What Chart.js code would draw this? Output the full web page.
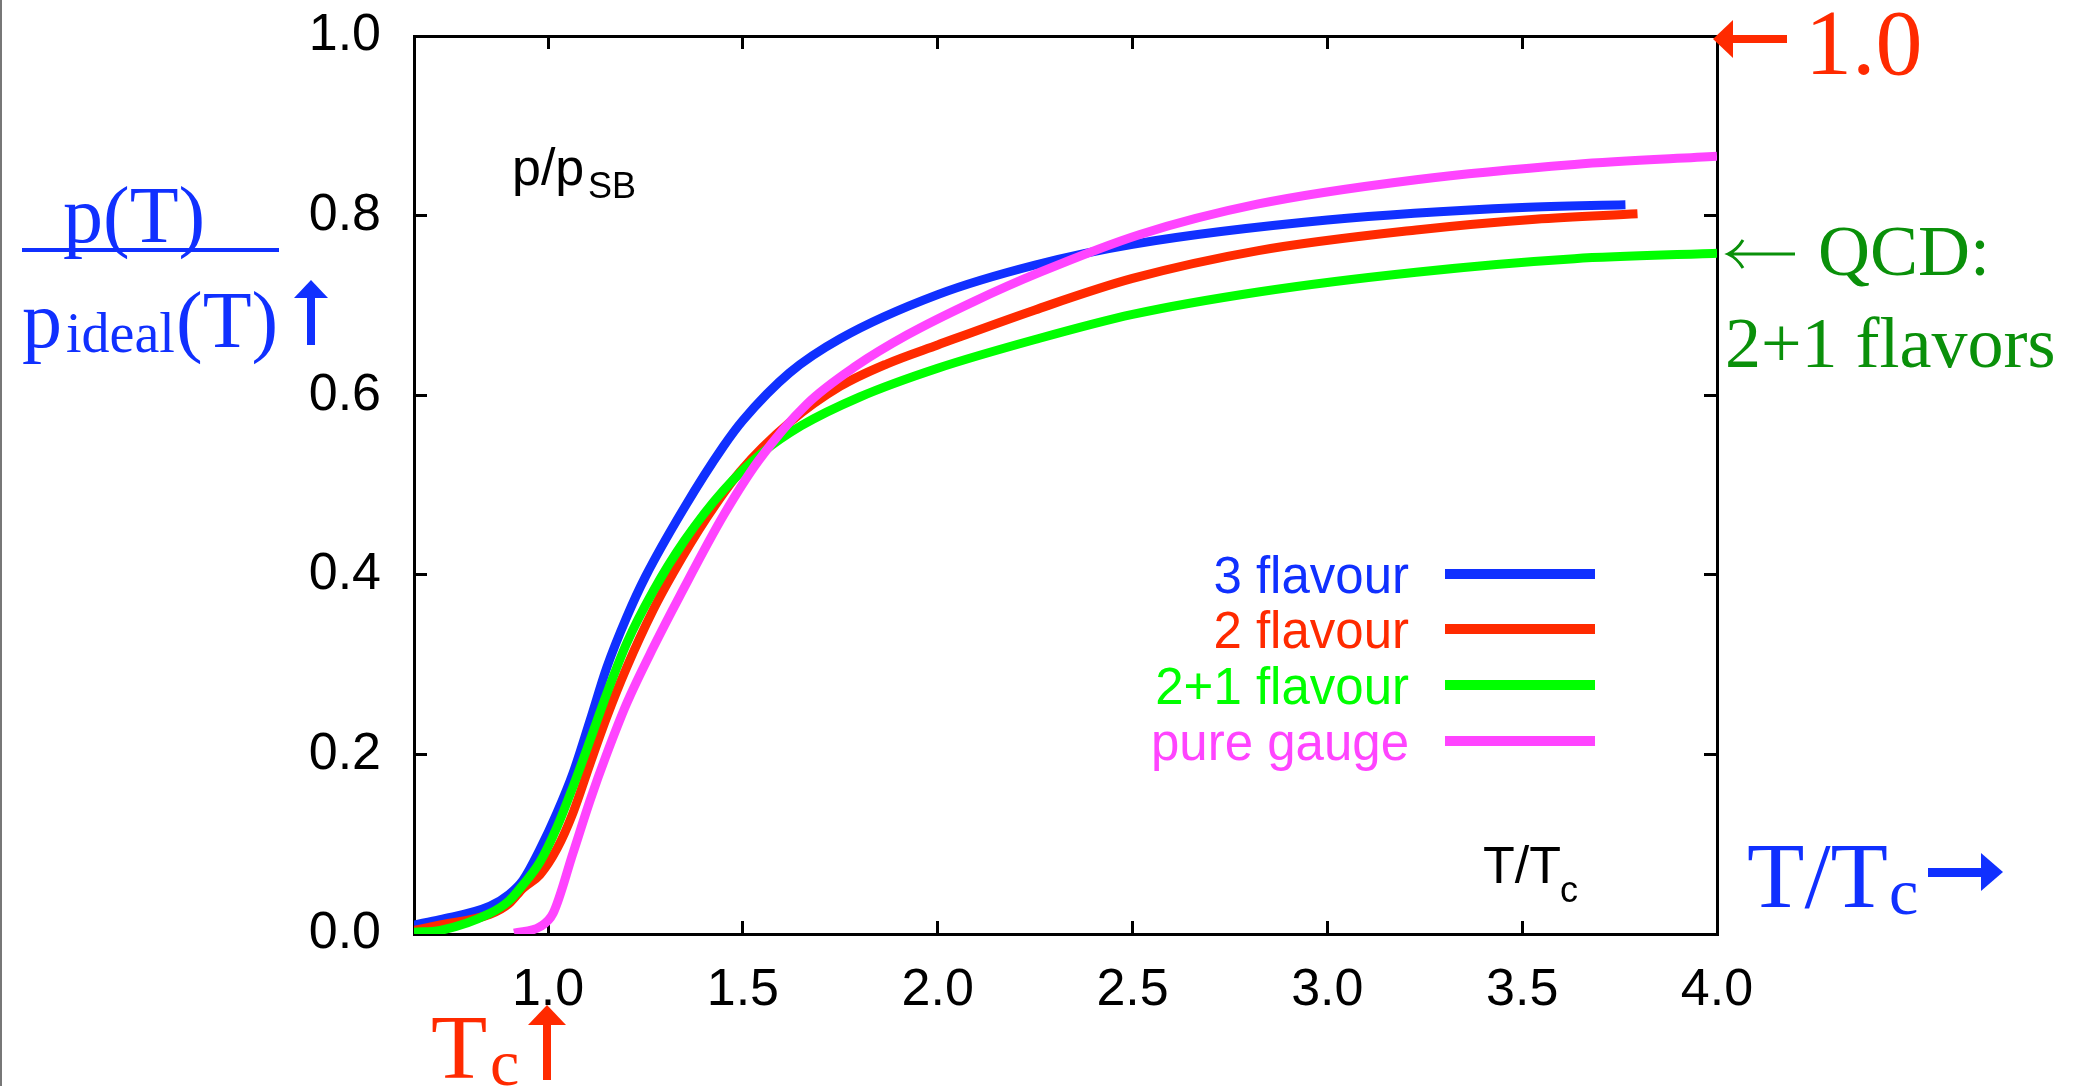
<!DOCTYPE html>
<html><head><meta charset="utf-8">
<script src="https://cdn.jsdelivr.net/npm/chart.js@4.4.0/dist/chart.umd.min.js"></script>
<style>html,body{margin:0;padding:0;background:#fff;overflow:hidden}canvas{display:block}</style>
</head><body>
<canvas id="c" width="2080" height="1086"></canvas>
<script>
// ---- data ----
const seriesLabels = ['3 flavour', '2 flavour', '2+1 flavour', 'pure gauge'];
const seriesColors = ['#1030ff', '#ff2a00', '#00ff00', '#ff44ff'];

const flav3T = [0.656,0.723,0.851,0.9,0.936,0.979,1.023,1.064,1.108,1.151,1.202,1.25,1.35,1.45,1.5,1.62,1.75,2.0,2.25,2.5,3.0,3.5,3.765];
const flav3P = [0.010,0.016,0.031,0.044,0.060,0.094,0.135,0.179,0.238,0.297,0.353,0.398,0.475,0.543,0.572,0.625,0.663,0.712,0.745,0.768,0.795,0.809,0.812];

const flav2T = [0.656,0.723,0.851,0.9,0.936,0.979,1.023,1.064,1.108,1.151,1.202,1.270,1.321,1.408,1.493,1.621,1.75,1.87,2.0,2.25,2.5,2.823,3.228,3.534,3.796];
const flav2P = [0.004,0.010,0.022,0.034,0.051,0.066,0.095,0.135,0.190,0.242,0.297,0.361,0.402,0.464,0.515,0.570,0.610,0.635,0.656,0.695,0.730,0.761,0.784,0.796,0.802];

const flav21T = [0.656,0.723,0.851,0.9,0.936,0.979,1.023,1.064,1.108,1.151,1.202,1.27,1.35,1.45,1.55,1.65,1.8,2.0,2.25,2.5,2.823,3.228,3.634,4.0];
const flav21P = [0.002,0.004,0.023,0.037,0.055,0.080,0.119,0.164,0.216,0.268,0.324,0.382,0.438,0.494,0.536,0.566,0.598,0.630,0.662,0.690,0.715,0.737,0.752,0.758];

const gaugeT = [0.913,0.979,1.013,1.064,1.108,1.151,1.202,1.27,1.34,1.45,1.54,1.664,1.792,1.921,2.091,2.263,2.519,2.823,3.228,3.634,4.0];
const gaugeP = [0.001,0.008,0.023,0.090,0.149,0.201,0.257,0.319,0.378,0.466,0.527,0.590,0.633,0.667,0.704,0.737,0.779,0.813,0.840,0.857,0.866];

const xMin = 0.656, xMax = 4.0, xStep = 0.5;
const yMin = 0.0, yMax = 1.0, yStep = 0.2;

// ---- build ----
function pts(xs, ys) { return xs.map((x, i) => ({x: x, y: ys[i]})); }
const seriesData = [pts(flav3T, flav3P), pts(flav2T, flav2P), pts(flav21T, flav21P), pts(gaugeT, gaugeP)];
const drawOrder = [3, 2, 1, 0];

const SANS = '"Liberation Sans", Arial, Helvetica, sans-serif';
const SERIF = '"Liberation Serif", "Times New Roman", Times, serif';
const BLUE = '#1030ff', RED = '#ff2a00', DGREEN = '#0a900a';

function fmt(v) { return Number(v).toFixed(1); }

const tickGrid = {drawOnChartArea: false, drawTicks: true, tickLength: -13, tickWidth: 3, tickColor: '#000'};
const axisBorder = {display: true, color: '#000', width: 3};
function noPad(s) { s.paddingTop = 0; s.paddingBottom = 0; }

const annotations = {
  id: 'annotations',
  afterDraw(chart) {
    const ctx = chart.ctx;
    ctx.save();
    // thin frame edge on the far left
    ctx.fillStyle = '#777';
    ctx.fillRect(0, 0, 2, 1086);

    // inner labels
    ctx.fillStyle = '#000';
    ctx.textAlign = 'left';
    ctx.textBaseline = 'alphabetic';
    ctx.font = '52px ' + SANS;
    ctx.fillText('p/p', 512, 185);
    ctx.font = '36px ' + SANS;
    ctx.fillText('SB', 588, 198);
    ctx.font = '52px ' + SANS;
    ctx.fillText('T/T', 1483, 883);
    ctx.font = '36px ' + SANS;
    ctx.fillText('c', 1560, 902);

    // legend
    const rows = [574, 629, 685, 741];
    chart.data.datasets.forEach((ds, i) => {
      ctx.fillStyle = ds.borderColor;
      ctx.font = '51px ' + SANS;
      ctx.textAlign = 'right';
      ctx.fillText(ds.label, 1409, rows[i] + 19);
      ctx.fillRect(1445, rows[i] - 5, 150, 10);
    });
    ctx.textAlign = 'left';

    // blue fraction label on the left
    ctx.fillStyle = BLUE;
    ctx.font = '80px ' + SERIF;
    ctx.fillText('p(T)', 63, 242);
    ctx.fillRect(22, 248, 257, 4);
    ctx.fillText('p', 22, 347);
    ctx.font = '56px ' + SERIF;
    ctx.fillText('ideal', 66, 352);
    ctx.font = '80px ' + SERIF;
    ctx.fillText('(T)', 176, 347);
    // up arrow
    ctx.fillRect(307, 295, 8, 50);
    ctx.beginPath(); ctx.moveTo(311, 280); ctx.lineTo(328, 298); ctx.lineTo(294, 298); ctx.closePath(); ctx.fill();

    // blue T/Tc -> on the right
    ctx.font = '94px ' + SERIF;
    ctx.fillText('T/T', 1747, 907);
    ctx.font = '66px ' + SERIF;
    ctx.fillText('c', 1889, 914);
    ctx.fillRect(1928, 868, 56, 9);
    ctx.beginPath(); ctx.moveTo(2003, 872); ctx.lineTo(1981, 853); ctx.lineTo(1981, 891); ctx.closePath(); ctx.fill();

    // red  <- 1.0
    ctx.fillStyle = RED;
    ctx.fillRect(1730, 35, 57, 8);
    ctx.beginPath(); ctx.moveTo(1713, 39); ctx.lineTo(1733, 20); ctx.lineTo(1733, 58); ctx.closePath(); ctx.fill();
    ctx.font = '94px ' + SERIF;
    ctx.fillText('1.0', 1805, 74);

    // red Tc arrow
    ctx.font = '92px ' + SERIF;
    ctx.fillText('T', 431, 1078);
    ctx.font = '66px ' + SERIF;
    ctx.fillText('c', 490, 1085);
    ctx.fillRect(543, 1022, 8, 58);
    ctx.beginPath(); ctx.moveTo(547, 1005); ctx.lineTo(566, 1025); ctx.lineTo(528, 1025); ctx.closePath(); ctx.fill();

    // green QCD note
    ctx.fillStyle = DGREEN;
    ctx.strokeStyle = DGREEN;
    ctx.lineWidth = 3;
    ctx.beginPath();
    ctx.moveTo(1729, 254); ctx.lineTo(1795, 254);
    ctx.moveTo(1743, 240); ctx.quadraticCurveTo(1737, 250, 1728, 254); ctx.quadraticCurveTo(1737, 258, 1743, 268);
    ctx.stroke();
    ctx.font = '72px ' + SERIF;
    ctx.fillText('QCD:', 1818, 275);
    ctx.fillText('2+1 flavors', 1725, 367);
    ctx.restore();
  }
};

new Chart(document.getElementById('c'), {
  type: 'line',
  data: {
    datasets: seriesLabels.map((lab, i) => ({
      label: lab,
      data: seriesData[i],
      borderColor: seriesColors[i],
      backgroundColor: seriesColors[i],
      borderWidth: 9,
      pointRadius: 0,
      pointHoverRadius: 0,
      tension: 0.4,
      cubicInterpolationMode: 'monotone',
      fill: false,
      order: drawOrder[i]
    }))
  },
  options: {
    responsive: false,
    animation: false,
    devicePixelRatio: 1,
    layout: {padding: {left: 0, right: 363, top: 36, bottom: 0}},
    plugins: {legend: {display: false}, tooltip: {enabled: false}},
    scales: {
      x: {
        type: 'linear', position: 'bottom', min: xMin, max: xMax,
        grid: tickGrid, border: axisBorder,
        ticks: {stepSize: xStep, includeBounds: false, padding: 38, color: '#000', font: {family: SANS, size: 52}, callback: fmt, maxRotation: 0, autoSkip: false},
        afterFit(s) { s.height = 152; s.paddingLeft = 0; s.paddingRight = 0; }
      },
      x2: {
        type: 'linear', position: 'top', min: xMin, max: xMax,
        grid: tickGrid, border: axisBorder,
        ticks: {stepSize: xStep, includeBounds: false, display: false},
        afterFit(s) { s.height = 0; s.paddingLeft = 0; s.paddingRight = 0; }
      },
      y: {
        type: 'linear', position: 'left', min: yMin, max: yMax,
        grid: tickGrid, border: axisBorder,
        ticks: {stepSize: yStep, padding: 46, color: '#000', font: {family: SANS, size: 52}, callback: fmt, autoSkip: false},
        afterFit(s) { s.width = 414; noPad(s); }
      },
      y2: {
        type: 'linear', position: 'right', min: yMin, max: yMax,
        grid: tickGrid, border: axisBorder,
        ticks: {stepSize: yStep, display: false},
        afterFit(s) { s.width = 0; noPad(s); }
      }
    }
  },
  plugins: [annotations]
});
</script>
</body></html>
